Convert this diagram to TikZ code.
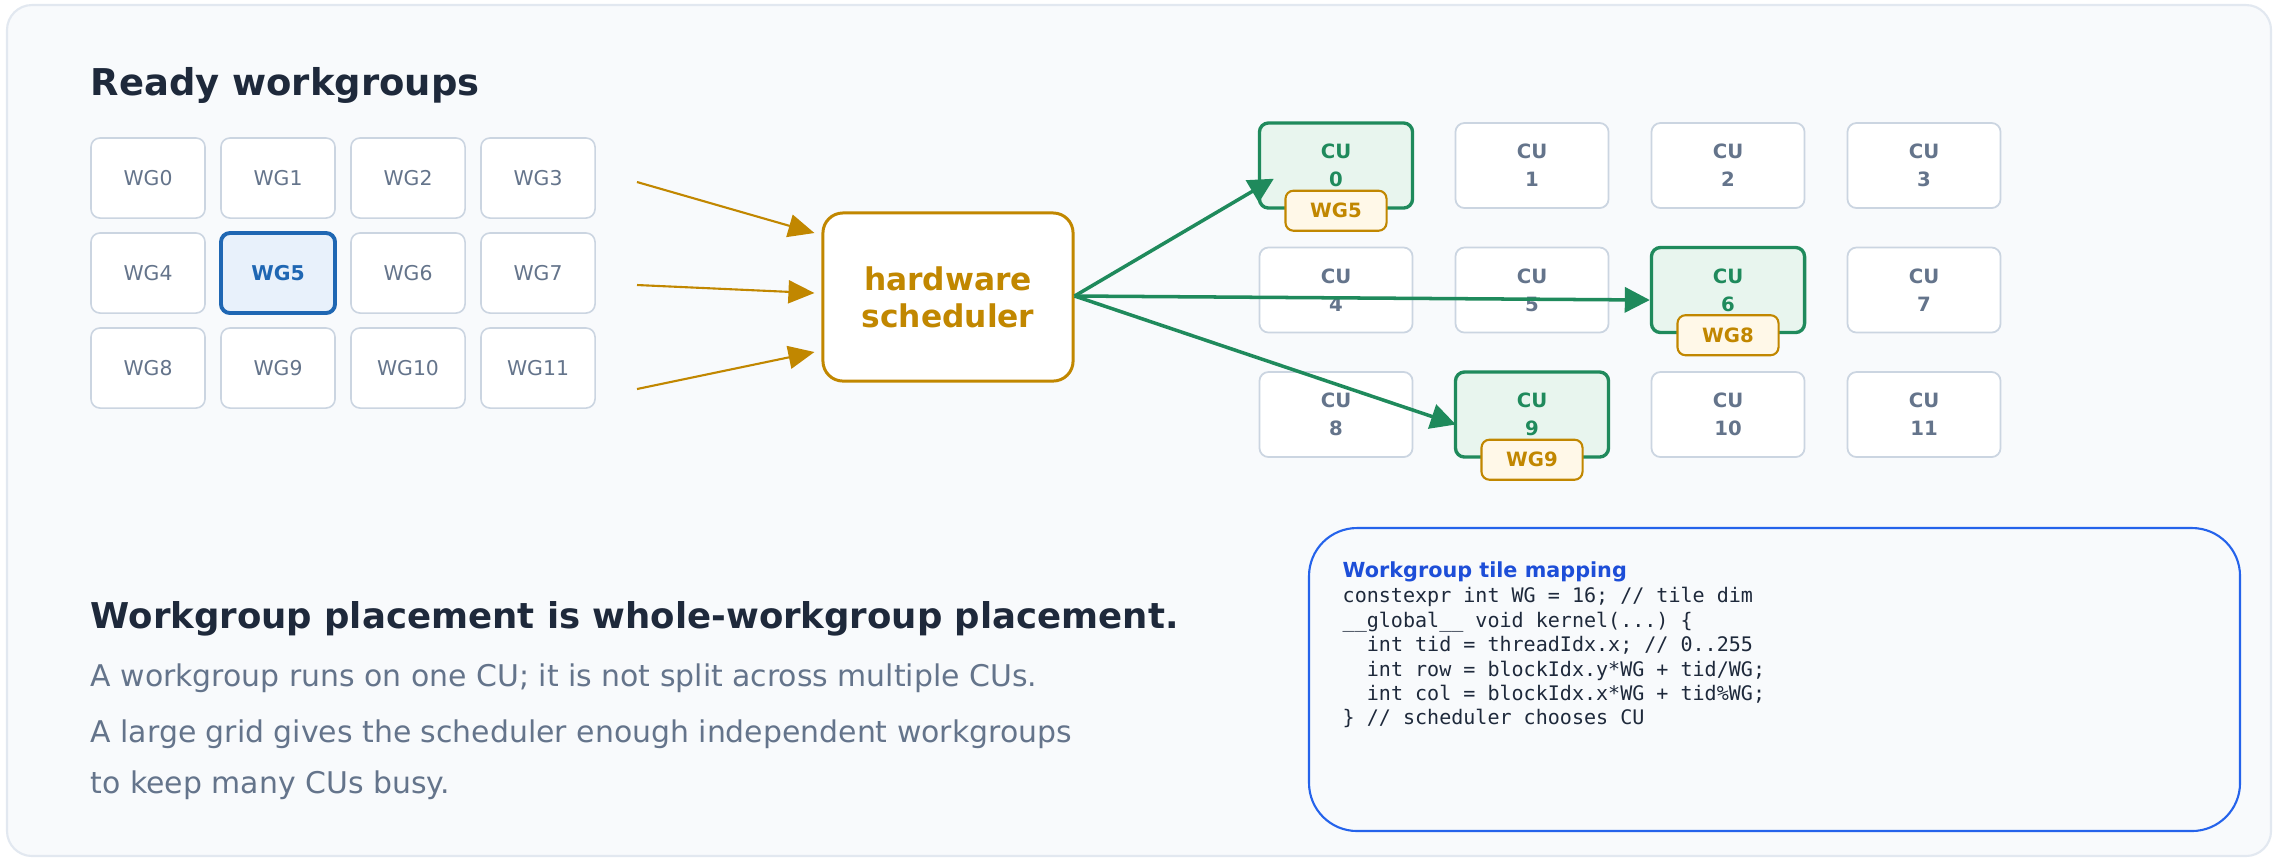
\documentclass[tikz,border=0pt]{standalone}
\usepackage{fontspec}
\setmainfont{DejaVu Sans}
\setmonofont{DejaVu Sans Mono}
\usetikzlibrary{arrows.meta,calc}
\definecolor{bgfill}{HTML}{F8FAFC}
\definecolor{bgline}{HTML}{E2E8F0}
\definecolor{wgline}{HTML}{CBD5E1}
\definecolor{slate}{HTML}{64748B}
\definecolor{dark}{HTML}{1E293B}
\definecolor{selblue}{HTML}{1F67B3}
\definecolor{selfill}{HTML}{E8F1FB}
\definecolor{orange1}{RGB}{193,135,0}
\definecolor{badgefill}{HTML}{FFF8E8}
\definecolor{cugreen}{RGB}{31,138,92}
\definecolor{cufill}{HTML}{E8F5EE}
\definecolor{codeblue}{HTML}{2563EB}
\definecolor{titleblue}{HTML}{1D4ED8}
\tikzset{
  wgbox/.style={draw=wgline, fill=white, line width=0.45pt, rounded corners=0.9mm,
    minimum width=1.14cm, minimum height=0.8cm, inner sep=0pt, text=slate,
    font=\fontsize{5.8}{7}\selectfont},
  wgsel/.style={wgbox, draw=selblue, fill=selfill, line width=1.1pt, text=selblue,
    font=\fontsize{5.8}{7}\selectfont\bfseries},
  cubox/.style={draw=wgline, fill=white, line width=0.5pt, rounded corners=0.9mm,
    minimum width=1.53cm, minimum height=0.85cm, inner sep=0pt, align=center,
    text=slate, font=\fontsize{5.6}{8}\selectfont\bfseries},
  cuact/.style={cubox, draw=cugreen, fill=cufill, line width=0.95pt, text=cugreen},
  badge/.style={draw=orange1, fill=badgefill, line width=0.6pt, rounded corners=0.8mm,
    minimum width=1.01cm, minimum height=0.4cm, inner sep=0pt, text=orange1,
    font=\fontsize{5.6}{7}\selectfont\bfseries},
  sched/.style={draw=orange1, fill=white, line width=0.85pt, rounded corners=2mm,
    minimum width=2.5cm, minimum height=1.68cm, inner sep=0pt, align=center,
    text=orange1, font=\fontsize{8.9}{10.5}\selectfont\bfseries},
  oarrow/.style={draw=orange1, line width=0.6pt, -{Triangle[length=2.6mm,width=2.3mm]}},
  garrow/.style={draw=cugreen, line width=1pt, -{Triangle[length=2.5mm,width=2.5mm]}},
  head/.style={anchor=base west, inner sep=0pt, text=dark},
  body/.style={anchor=base west, inner sep=0pt, text=slate, font=\fontsize{8.5}{10}\selectfont},
  code/.style={anchor=base west, inner sep=0pt, text=dark, font=\ttfamily\fontsize{5.7}{7}\selectfont}
}
\begin{document}
\begin{tikzpicture}[x=0.01cm,y=-0.01cm]
\useasboundingbox (0,0) rectangle (2280,859);
\fill[white] (0,0) rectangle (2280,859);
\draw[draw=bgline, fill=bgfill, line width=0.6pt, rounded corners=2.5mm] (7,5) rectangle (2271,856);

% title
\node[head, font=\fontsize{10.5}{12}\selectfont\bfseries] (title) at (90,95) {Ready workgroups};

% workgroups
\node[wgbox] (wg0) at (148,178) {WG0};
\node[wgbox] (wg1) at (278,178) {WG1};
\node[wgbox] (wg2) at (408,178) {WG2};
\node[wgbox] (wg3) at (538,178) {WG3};
\node[wgbox] (wg4) at (148,273) {WG4};
\node[wgsel] (wg5) at (278,273) {WG5};
\node[wgbox] (wg6) at (408,273) {WG6};
\node[wgbox] (wg7) at (538,273) {WG7};
\node[wgbox] (wg8) at (148,368) {WG8};
\node[wgbox] (wg9) at (278,368) {WG9};
\node[wgbox] (wg10) at (408,368) {WG10};
\node[wgbox] (wg11) at (538,368) {WG11};

% scheduler
\node[sched] (sch) at (948,297) {hardware\\scheduler};

\coordinate (in1) at (637,182);
\coordinate (in2) at (637,285);
\coordinate (in3) at (637,389);
\draw[oarrow] (in1) -- ($(sch.west)+(-7,-64)$);
\draw[oarrow] (in2) -- ($(sch.west)+(-7,-4)$);
\draw[oarrow] (in3) -- ($(sch.west)+(-7,55)$);

% CUs
\node[cuact] (cu0) at (1336,165.5) {CU\\0};
\node[cubox] (cu1) at (1532,165.5) {CU\\1};
\node[cubox] (cu2) at (1728,165.5) {CU\\2};
\node[cubox] (cu3) at (1924,165.5) {CU\\3};
\node[cubox] (cu4) at (1336,290) {CU\\4};
\node[cubox] (cu5) at (1532,290) {CU\\5};
\node[cuact] (cu6) at (1728,290) {CU\\6};
\node[cubox] (cu7) at (1924,290) {CU\\7};
\node[cubox] (cu8) at (1336,414.5) {CU\\8};
\node[cuact] (cu9) at (1532,414.5) {CU\\9};
\node[cubox] (cu10) at (1728,414.5) {CU\\10};
\node[cubox] (cu11) at (1924,414.5) {CU\\11};

\node[badge] (b0) at ($(cu0.south)+(0,1)$) {WG5};
\node[badge] (b6) at ($(cu6.south)+(0,1)$) {WG8};
\node[badge] (b9) at ($(cu9.south)+(0,1)$) {WG9};

\draw[garrow] ($(sch.east)+(0,-1)$) -- ($(cu0.south west)+(16,-31)$);
\draw[garrow] ($(sch.east)+(0,-1)$) -- ($(cu6.west)+(0,10)$);
\draw[garrow] ($(sch.east)+(0,-1)$) -- ($(cu9.west)+(2,10)$);

% bottom text
\node[head, font=\fontsize{10.1}{12}\selectfont\bfseries] (h2) at (90,628) {Workgroup placement is whole-workgroup placement.};
\node[body] (t1) at (90,686) {A workgroup runs on one CU; it is not split across multiple CUs.};
\node[body] (t2) at (90,742) {A large grid gives the scheduler enough independent workgroups};
\node[body] (t3) at (90,793) {to keep many CUs busy.};

% code box
\draw[draw=codeblue, fill=bgfill, line width=0.6pt, rounded corners=4.8mm] (1309,528) rectangle (2240,831);
\node[anchor=base west, inner sep=0pt, text=titleblue, font=\fontsize{5.9}{7}\selectfont\bfseries] (ct) at (1342,577) {Workgroup tile mapping};
\node[code] (c1) at (1342,602) {constexpr int WG = 16; // tile dim};
\node[code] (c2) at (1342,627) {\_\_global\_\_ void kernel(...) \{};
\node[code] (c3) at (1342,651) {\ \ int tid = threadIdx.x; // 0..255};
\node[code] (c4) at (1342,676) {\ \ int row = blockIdx.y*WG + tid/WG;};
\node[code] (c5) at (1342,700) {\ \ int col = blockIdx.x*WG + tid\%WG;};
\node[code] (c6) at (1342,724) {\} // scheduler chooses CU};
\end{tikzpicture}
\end{document}
